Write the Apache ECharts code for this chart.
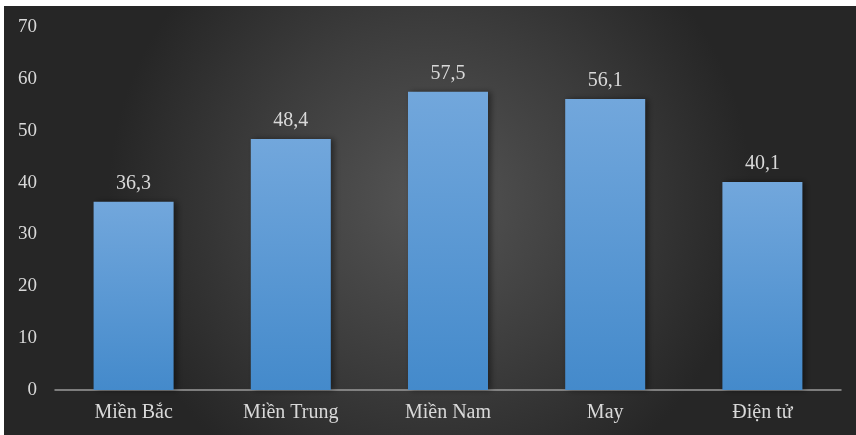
<!DOCTYPE html>
<html>
<head>
<meta charset="utf-8">
<style>
  html, body { margin: 0; padding: 0; background: #ffffff; }
  #chart { position: absolute; left: 4px; top: 6px; width: 852px; height: 429px; }
</style>
<script src="https://cdn.jsdelivr.net/npm/echarts@6/dist/echarts.min.js"></script>
</head>
<body>
<div id="chart"></div>
<script>
// Categories and values
const categories = ['Miền Bắc', 'Miền Trung', 'Miền Nam', 'May', 'Điện tử'];
const values = [36.3, 48.4, 57.5, 56.1, 40.1];
const yTicks = [0, 10, 20, 30, 40, 50, 60, 70];

const FONT = '"Liberation Serif", "Times New Roman", serif';
const TEXT = '#d9d9d9';

const chart = echarts.init(document.getElementById('chart'), null, { renderer: 'canvas' });

chart.setOption({
  animation: false,
  backgroundColor: {
    type: 'radial', x: 0.5, y: 0.45, r: 0.75,
    colorStops: [
      { offset: 0, color: '#555555' },
      { offset: 0.55, color: '#3c3c3c' },
      { offset: 1, color: '#262626' }
    ]
  },
  grid: { left: 51, right: 15, top: 21, bottom: 45 },
  xAxis: {
    type: 'category',
    data: categories,
    axisLine: { show: true, lineStyle: { color: '#9a9a9a', width: 1.5 } },
    axisTick: { show: false },
    axisLabel: { color: TEXT, fontFamily: FONT, fontSize: 20, margin: 13 }
  },
  yAxis: {
    type: 'value',
    min: yTicks[0],
    max: yTicks[yTicks.length - 1],
    interval: 10,
    axisLine: { show: false },
    axisTick: { show: false },
    splitLine: { show: false },
    axisLabel: { color: TEXT, fontFamily: FONT, fontSize: 19, margin: 18 }
  },
  series: [{
    type: 'bar',
    data: values,
    barWidth: 80,
    itemStyle: {
      color: {
        type: 'linear', x: 0, y: 0, x2: 0, y2: 1,
        colorStops: [
          { offset: 0, color: '#72a7dc' },
          { offset: 1, color: '#448acb' }
        ]
      },
      shadowColor: 'rgba(0,0,0,0.45)',
      shadowBlur: 6,
      shadowOffsetX: 3,
      shadowOffsetY: 0
    },
    label: {
      show: true,
      position: 'top',
      distance: 8,
      color: TEXT,
      fontFamily: FONT,
      fontSize: 20,
      formatter: p => String(p.value).replace('.', ',')
    }
  }]
});
</script>
</body>
</html>
